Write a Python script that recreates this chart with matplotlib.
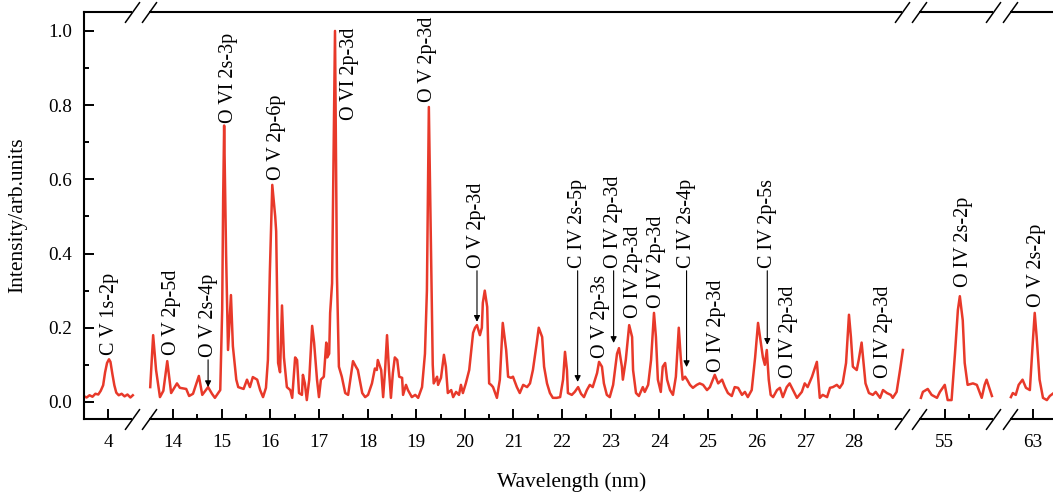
import numpy as np
import matplotlib.pyplot as plt

plt.rcParams["font.family"] = ["Liberation Serif", "DejaVu Serif"]

# spectrum in four pieces (broken wavelength axis)
seg_a_wl = [3.51, 3.56, 3.62, 3.68, 3.74, 3.80, 3.85, 3.90, 3.94, 3.98, 4.02,
            4.05, 4.09, 4.13, 4.17, 4.22, 4.28, 4.34, 4.40, 4.46, 4.51]
seg_a_int = [0.015, 0.012, 0.018, 0.014, 0.022, 0.020, 0.030, 0.045, 0.080, 0.105, 0.115,
             0.108, 0.075, 0.045, 0.025, 0.018, 0.022, 0.015, 0.020, 0.012, 0.018]

seg_b_wl = [
    13.53, 13.59, 13.65, 13.73, 13.80, 13.88, 13.96, 14.08, 14.14, 14.27, 14.33, 14.41,
    14.53, 14.60, 14.72, 14.80, 14.86, 14.97, 15.01, 15.03, 15.05, 15.09, 15.13, 15.19,
    15.23, 15.30, 15.34, 15.45, 15.52, 15.58, 15.64, 15.73, 15.79, 15.85, 15.91, 15.95,
    15.99, 16.04, 16.10, 16.12, 16.16, 16.20, 16.24, 16.28, 16.34, 16.41, 16.45, 16.51,
    16.55, 16.59, 16.65, 16.67, 16.71, 16.75, 16.80, 16.86, 16.90, 16.96, 17.00, 17.04,
    17.10, 17.15, 17.17, 17.21, 17.23, 17.27, 17.33, 17.37, 17.41, 17.47, 17.54, 17.60,
    17.70, 17.76, 17.80, 17.89, 17.95, 18.01, 18.09, 18.15, 18.19, 18.21, 18.28, 18.32,
    18.36, 18.40, 18.44, 18.48, 18.52, 18.56, 18.61, 18.65, 18.71, 18.73, 18.79, 18.83,
    18.91, 18.98, 19.04, 19.12, 19.18, 19.22, 19.26, 19.30, 19.34, 19.36, 19.43, 19.45,
    19.51, 19.57, 19.61, 19.65, 19.72, 19.76, 19.82, 19.88, 19.92, 19.96, 20.02, 20.09,
    20.17, 20.21, 20.25, 20.31, 20.35, 20.37, 20.41, 20.46, 20.50, 20.54, 20.58, 20.66,
    20.72, 20.78, 20.85, 20.89, 20.95, 20.99, 21.07, 21.13, 21.20, 21.28, 21.34, 21.40,
    21.48, 21.52, 21.59, 21.63, 21.69, 21.75, 21.81, 21.89, 21.96, 22.02, 22.06, 22.10,
    22.12, 22.20, 22.26, 22.33, 22.39, 22.45, 22.51, 22.57, 22.63, 22.72, 22.76, 22.82,
    22.86, 22.92, 22.98, 23.05, 23.13, 23.17, 23.23, 23.25, 23.31, 23.38, 23.44, 23.46,
    23.52, 23.58, 23.66, 23.70, 23.77, 23.83, 23.89, 23.93, 23.97, 24.03, 24.07, 24.12,
    24.16, 24.22, 24.28, 24.34, 24.40, 24.44, 24.48, 24.53, 24.57, 24.63, 24.69, 24.77,
    24.83, 24.90, 24.98, 25.04, 25.14, 25.21, 25.29, 25.35, 25.41, 25.49, 25.55, 25.62,
    25.70, 25.76, 25.82, 25.90, 25.97, 26.03, 26.07, 26.13, 26.17, 26.21, 26.25, 26.29,
    26.34, 26.42, 26.48, 26.54, 26.62, 26.68, 26.75, 26.83, 26.93, 26.99, 27.05, 27.14,
    27.20, 27.24, 27.30, 27.36, 27.45, 27.51, 27.57, 27.65, 27.71, 27.77, 27.84, 27.90,
    27.94, 27.98, 28.06, 28.10, 28.16, 28.20, 28.24, 28.31, 28.39, 28.45, 28.54, 28.60,
    28.68, 28.76, 28.80, 28.88, 28.95, 29.01,
]
seg_b_int = [
    0.040, 0.180, 0.086, 0.013, 0.030, 0.110, 0.024, 0.050, 0.038, 0.035, 0.016, 0.022,
    0.070, 0.019, 0.040, 0.022, 0.011, 0.032, 0.250, 0.550, 0.745, 0.400, 0.140, 0.288,
    0.150, 0.060, 0.040, 0.035, 0.060, 0.040, 0.067, 0.060, 0.032, 0.013, 0.038, 0.113,
    0.350, 0.585, 0.500, 0.460, 0.105, 0.080, 0.260, 0.120, 0.040, 0.032, 0.011, 0.120,
    0.113, 0.024, 0.019, 0.073, 0.050, 0.005, 0.060, 0.205, 0.160, 0.060, 0.013, 0.060,
    0.068, 0.160, 0.120, 0.130, 0.240, 0.320, 1.000, 0.340, 0.095, 0.068, 0.024, 0.019,
    0.110, 0.095, 0.086, 0.024, 0.013, 0.019, 0.050, 0.090, 0.086, 0.113, 0.086, 0.013,
    0.086, 0.180, 0.086, 0.011, 0.078, 0.120, 0.113, 0.068, 0.065, 0.019, 0.046, 0.032,
    0.013, 0.019, 0.011, 0.040, 0.130, 0.300, 0.795, 0.450, 0.100, 0.050, 0.068, 0.046,
    0.065, 0.127, 0.095, 0.024, 0.032, 0.013, 0.027, 0.019, 0.046, 0.024, 0.050, 0.086,
    0.186, 0.200, 0.207, 0.180, 0.200, 0.267, 0.300, 0.256, 0.050, 0.046, 0.040, 0.011,
    0.060, 0.213, 0.140, 0.068, 0.065, 0.068, 0.040, 0.024, 0.046, 0.040, 0.050, 0.086,
    0.160, 0.200, 0.175, 0.095, 0.050, 0.024, 0.011, 0.011, 0.013, 0.060, 0.135, 0.086,
    0.024, 0.019, 0.027, 0.040, 0.022, 0.013, 0.032, 0.046, 0.040, 0.078, 0.108, 0.095,
    0.050, 0.019, 0.013, 0.046, 0.130, 0.145, 0.095, 0.060, 0.113, 0.207, 0.175, 0.086,
    0.024, 0.016, 0.040, 0.027, 0.046, 0.113, 0.240, 0.175, 0.060, 0.027, 0.095, 0.105,
    0.060, 0.032, 0.019, 0.068, 0.200, 0.120, 0.060, 0.068, 0.060, 0.046, 0.038, 0.046,
    0.050, 0.046, 0.032, 0.040, 0.073, 0.050, 0.060, 0.040, 0.024, 0.016, 0.040, 0.038,
    0.019, 0.027, 0.013, 0.032, 0.120, 0.213, 0.175, 0.120, 0.100, 0.140, 0.060, 0.019,
    0.013, 0.032, 0.038, 0.013, 0.040, 0.050, 0.032, 0.011, 0.027, 0.050, 0.040, 0.068,
    0.092, 0.108, 0.011, 0.019, 0.013, 0.038, 0.040, 0.046, 0.038, 0.050, 0.105, 0.235,
    0.175, 0.095, 0.086, 0.113, 0.160, 0.105, 0.050, 0.024, 0.019, 0.027, 0.011, 0.032,
    0.024, 0.019, 0.011, 0.027, 0.086, 0.140,
]

seg_c_wl = [54.51, 54.55, 54.65, 54.73, 54.84, 54.90, 55.00, 55.06, 55.14, 55.21, 55.27,
            55.31, 55.37, 55.41, 55.47, 55.58, 55.66, 55.76, 55.82, 55.86, 55.93, 55.97]
seg_c_int = [0.011, 0.027, 0.035, 0.019, 0.011, 0.027, 0.046, 0.005, 0.005, 0.130, 0.248,
             0.285, 0.220, 0.105, 0.046, 0.050, 0.046, 0.011, 0.046, 0.060, 0.032, 0.016]

seg_d_wl = [62.55, 62.59, 62.65, 62.71, 62.79, 62.86, 62.94, 63.00, 63.04, 63.08, 63.14,
            63.21, 63.29, 63.35, 63.41]
seg_d_int = [0.013, 0.024, 0.019, 0.046, 0.060, 0.038, 0.032, 0.160, 0.240, 0.175, 0.060,
             0.011, 0.005, 0.016, 0.022]

# line identifications: text, x, y of text start, arrow tip (None = no arrow)
line_labels = ["C V 1s-2p", "O V 2p-5d", "O V 2s-4p", "O VI 2s-3p", "O V 2p-6p",
               "O VI 2p-3d", "O V 2p-3d", "O V 2p-3d", "C IV 2s-5p", "O V 2p-3s",
               "O IV 2p-3d", "O IV 2p-3d", "O IV 2p-3d", "C IV 2s-4p", "O IV 2p-3d",
               "C IV 2p-5s", "O IV 2p-3d", "O IV 2p-3d", "O IV 2s-2p", "O V 2s-2p"]
label_x = [4.04, 13.96, 14.72, 15.13, 16.12, 17.62, 19.24, 20.25, 22.32, 22.78,
           23.06, 23.46, 23.95, 24.56, 25.18, 26.22, 26.66, 28.62, 55.39, 63.08]
label_y = [0.127, 0.127, 0.121, 0.752, 0.598, 0.760, 0.809, 0.361, 0.361, 0.119,
           0.361, 0.226, 0.253, 0.361, 0.081, 0.361, 0.065, 0.065, 0.310, 0.256]
arrow_tip = [None, None, 0.040, None, None, None, None, 0.216, 0.054, None,
             0.159, None, None, 0.094, None, 0.154, None, None, None, None]

# broken axis: kept wavelength windows
windows = [(3.506, 4.658), (13.32, 29.17), (54.30, 56.17), (62.36, 63.56)]
xticks_major = [4, 14, 15, 16, 17, 18, 19, 20, 21, 22, 23, 24, 25, 26, 27, 28, 55, 63]
xticks_minor = [14.5, 15.5, 16.5, 17.5, 18.5, 19.5, 20.5, 21.5, 22.5, 23.5, 24.5,
                25.5, 26.5, 27.5, 28.5, 55.5]

w_knots, u_knots = [], []
u = 0.0
for lo, hi in windows:
    w_knots += [lo, hi]
    u_knots += [u, u + (hi - lo)]
    u += hi - lo
w_knots = np.array(w_knots)
u_knots = np.array(u_knots)
u_inv = u_knots + np.arange(len(u_knots)) * 1e-9


def forward(w):
    return np.interp(w, w_knots, u_knots)


def inverse(v):
    return np.interp(v, u_inv, w_knots)


red = "#E8392A"
fig = plt.figure(figsize=(10.53, 4.94), dpi=100)
ax = fig.add_axes([84 / 1053, 75 / 494, 976 / 1053, 407 / 494])
ax.set_xscale("function", functions=(forward, inverse))

for wl, inten in [(seg_a_wl, seg_a_int), (seg_b_wl, seg_b_int),
                  (seg_c_wl, seg_c_int), (seg_d_wl, seg_d_int)]:
    ax.plot(wl, inten, color=red, lw=1.8, solid_joinstyle="round")

ax.set_xlim(windows[0][0], windows[-1][1])
ax.set_ylim(-0.046, 1.051)
ax.set_xticks(xticks_major)
ax.set_xticklabels([str(t) for t in xticks_major])
ax.set_xticks(xticks_minor, minor=True)
ax.set_yticks(np.arange(0, 1.01, 0.2))
ax.set_yticklabels([f"{t:.1f}" for t in np.arange(0, 1.01, 0.2)])
ax.set_yticks(np.arange(0.1, 1.0, 0.2), minor=True)
ax.tick_params(which="both", direction="in", width=1.4, labelsize=13.8)
ax.tick_params(which="major", length=7)
ax.tick_params(which="minor", length=3.5)
ax.tick_params(axis="x", pad=11)
ax.tick_params(axis="y", pad=8.5)
for s in ax.spines.values():
    s.set_linewidth(1.5)

ax.set_xlabel("Wavelength (nm)", fontsize=15.5, labelpad=15)
ax.set_ylabel("Intensity/arb.units", fontsize=15.5, labelpad=15)

# break marks "//" on top and bottom spines
d = 0.175
for (lo1, hi1), (lo2, hi2) in zip(windows[:-1], windows[1:]):
    for yy in (0, 1):
        ax.plot([hi1 - d, lo2 + d], [yy, yy], transform=ax.get_xaxis_transform(),
                color="white", lw=4, clip_on=False, zorder=5, solid_capstyle="butt")
        ax.plot([hi1 - d, lo2 + d], [yy, yy], transform=ax.get_xaxis_transform(),
                ls="none", marker=[(-1, -1.4), (1, 1.4)], markersize=15,
                mec="black", mew=1.1, clip_on=False, zorder=6)

for txt, x, y, tip in zip(line_labels, label_x, label_y, arrow_tip):
    if tip is None:
        ax.text(x, y, txt, rotation=90, ha="center", va="bottom", fontsize=14.5)
    else:
        ax.annotate(txt, xy=(x, tip), xytext=(x, y), rotation=90, ha="center",
                    va="bottom", fontsize=14.5,
                    arrowprops=dict(arrowstyle="-|>", color="black", lw=0.8,
                                    mutation_scale=9, shrinkA=0, shrinkB=0))

plt.savefig("out.png", dpi=100)
